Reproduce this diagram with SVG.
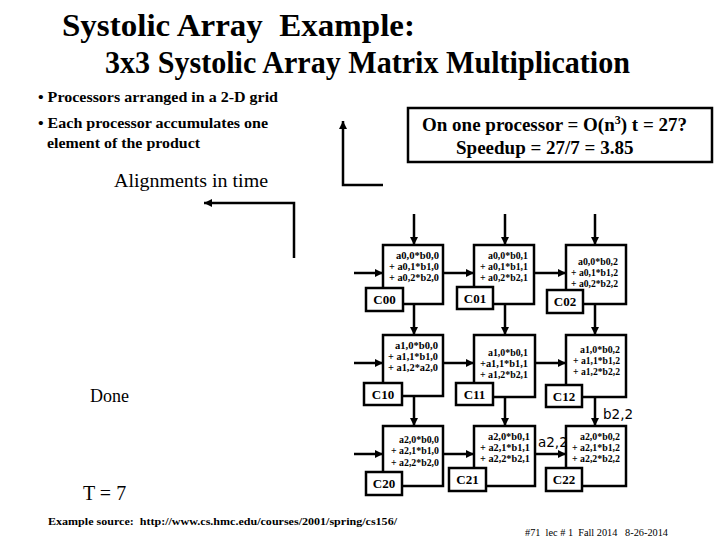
<svg xmlns="http://www.w3.org/2000/svg" width="720" height="540" viewBox="0 0 720 540">
<defs>
<style>
.ser{font-family:"Liberation Serif","Times New Roman",serif;fill:#000}
.b{font-weight:bold}
.cell{font-family:"Liberation Serif","Times New Roman",serif;font-weight:bold;font-size:11px;text-anchor:end;fill:#000}
.lbl{font-family:"Liberation Serif","Times New Roman",serif;font-weight:bold;font-size:13px;text-anchor:middle;fill:#000}
.box{fill:#fff;stroke:#000;stroke-width:2.5}
.ar{fill:none;stroke:#000;stroke-width:2.5;marker-end:url(#ah)}
.sans{font-family:"DejaVu Sans","Liberation Sans",sans-serif;font-size:13.5px;fill:#000}
</style>
<marker id="ah" markerUnits="userSpaceOnUse" markerWidth="9" markerHeight="8" refX="8" refY="4" orient="auto"><path d="M0,0 L8,4 L0,8 z" fill="#000"/></marker>
</defs>
<rect width="720" height="540" fill="#fff"/>

<g id="title">
<text class="ser b" x="62" y="36" font-size="32" textLength="353" lengthAdjust="spacingAndGlyphs" xml:space="preserve">Systolic Array  Example:</text>
<text class="ser b" x="105" y="73" font-size="32" textLength="525" lengthAdjust="spacingAndGlyphs">3x3 Systolic Array Matrix Multiplication</text>
</g>

<g id="bullets">
<text class="ser b" x="38" y="102" font-size="15" textLength="240" lengthAdjust="spacingAndGlyphs">• Processors arranged in a 2-D grid</text>
<text class="ser b" x="38" y="128" font-size="15" textLength="230" lengthAdjust="spacingAndGlyphs">• Each processor accumulates one</text>
<text class="ser b" x="47" y="148" font-size="15" textLength="153" lengthAdjust="spacingAndGlyphs">element of the product</text>
<text class="ser" x="114" y="187" font-size="18" textLength="154" lengthAdjust="spacingAndGlyphs">Alignments in time</text>
</g>

<g id="speedup">
<rect x="408" y="108" width="304" height="54" fill="#fff" stroke="#000" stroke-width="2.5"/>
<text class="ser b" x="422" y="131" font-size="19">On one processor = O(n<tspan font-size="12" dy="-7">3</tspan><tspan dy="7">) t = 27?</tspan></text>
<text class="ser b" x="456" y="154" font-size="19">Speedup = 27/7 = 3.85</text>
</g>

<g id="texts">
<text class="ser" x="90" y="402" font-size="18">Done</text>
<text class="ser" x="83" y="500" font-size="20">T = 7</text>
<text class="ser b" x="48" y="525" font-size="11" textLength="349" lengthAdjust="spacingAndGlyphs" xml:space="preserve">Example source:  http://www.cs.hmc.edu/courses/2001/spring/cs156/</text>
<text class="ser" x="525" y="536" font-size="9.5" textLength="143" lengthAdjust="spacingAndGlyphs" xml:space="preserve">#71  lec # 1  Fall 2014   8-26-2014</text>
<text class="sans" x="538" y="447">a2,2</text>
<text class="sans" x="603" y="419">b2,2</text>
</g>

<g id="connectors">
<polyline class="ar" points="294,258 294,203 204,203"/>
<polyline class="ar" points="383,185 343,185 343,121"/>
<line class="ar" x1="414" y1="214" x2="414" y2="245"/>
<line class="ar" x1="505" y1="214" x2="505" y2="245" stroke-width="1.8"/>
<line class="ar" x1="595" y1="214" x2="595" y2="245"/>
<line class="ar" x1="414" y1="304" x2="414" y2="335"/>
<line class="ar" x1="505" y1="304" x2="505" y2="335" stroke-width="1.8"/>
<line class="ar" x1="595" y1="304" x2="595" y2="335"/>
<line class="ar" x1="414" y1="396" x2="414" y2="426"/>
<line class="ar" x1="505" y1="397" x2="505" y2="426" stroke-width="1.8"/>
<line class="ar" x1="595" y1="397" x2="595" y2="426"/>
<line class="ar" x1="354" y1="273" x2="383" y2="273"/>
<line class="ar" x1="443" y1="273" x2="474" y2="273"/>
<line class="ar" x1="534" y1="273" x2="566" y2="273"/>
<line class="ar" x1="354" y1="363" x2="383" y2="363"/>
<line class="ar" x1="443" y1="363" x2="474" y2="363"/>
<line class="ar" x1="535" y1="363" x2="566" y2="363"/>
<line class="ar" x1="354" y1="454" x2="383" y2="454"/>
<line class="ar" x1="443" y1="454" x2="474" y2="454"/>
<line class="ar" x1="535" y1="454" x2="566" y2="454"/>
</g>

<g id="C00">
<rect class="box" x="383" y="245" width="60" height="59"/>
<text class="cell" x="439" y="259" textLength="43" lengthAdjust="spacingAndGlyphs">a0,0*b0,0</text>
<text class="cell" x="439" y="270" textLength="50" lengthAdjust="spacingAndGlyphs">+ a0,1*b1,0</text>
<text class="cell" x="439" y="281" textLength="50" lengthAdjust="spacingAndGlyphs">+ a0,2*b2,0</text>
<rect class="box" x="366" y="288" width="37" height="23"/>
<text class="lbl" x="384.5" y="304">C00</text>
</g>
<g id="C01">
<rect class="box" x="474" y="245" width="60" height="59"/>
<text class="cell" x="528" y="259" textLength="40" lengthAdjust="spacingAndGlyphs">a0,0*b0,1</text>
<text class="cell" x="528" y="270" textLength="48" lengthAdjust="spacingAndGlyphs">+ a0,1*b1,1</text>
<text class="cell" x="528" y="281" textLength="48" lengthAdjust="spacingAndGlyphs">+ a0,2*b2,1</text>
<rect class="box" x="457" y="287" width="36" height="22"/>
<text class="lbl" x="475" y="303">C01</text>
</g>
<g id="C02">
<rect class="box" x="566" y="245" width="60" height="59"/>
<text class="cell" x="618" y="265" textLength="40" lengthAdjust="spacingAndGlyphs">a0,0*b0,2</text>
<text class="cell" x="618" y="276" textLength="47" lengthAdjust="spacingAndGlyphs">+ a0,1*b1,2</text>
<text class="cell" x="618" y="287" textLength="47" lengthAdjust="spacingAndGlyphs">+ a0,2*b2,2</text>
<rect class="box" x="547" y="290" width="36" height="23"/>
<text class="lbl" x="565" y="306">C02</text>
</g>

<g id="C10">
<rect class="box" x="383" y="335" width="60" height="61"/>
<text class="cell" x="438" y="349" textLength="43" lengthAdjust="spacingAndGlyphs">a1,0*b0,0</text>
<text class="cell" x="438" y="360" textLength="50" lengthAdjust="spacingAndGlyphs">+ a1,1*b1,0</text>
<text class="cell" x="438" y="371" textLength="50" lengthAdjust="spacingAndGlyphs">+ a1,2*a2,0</text>
<rect class="box" x="364" y="383" width="38" height="22"/>
<text class="lbl" x="383" y="399">C10</text>
</g>
<g id="C11">
<rect class="box" x="474" y="335" width="61" height="62"/>
<text class="cell" x="528" y="356" textLength="40" lengthAdjust="spacingAndGlyphs">a1,0*b0,1</text>
<text class="cell" x="528" y="367" textLength="48" lengthAdjust="spacingAndGlyphs">+a1,1*b1,1</text>
<text class="cell" x="528" y="378" textLength="48" lengthAdjust="spacingAndGlyphs">+ a1,2*b2,1</text>
<rect class="box" x="456" y="383" width="37" height="22"/>
<text class="lbl" x="474.5" y="399">C11</text>
</g>
<g id="C12">
<rect class="box" x="566" y="335" width="60" height="62"/>
<text class="cell" x="620" y="353" textLength="40" lengthAdjust="spacingAndGlyphs">a1,0*b0,2</text>
<text class="cell" x="620" y="364" textLength="47" lengthAdjust="spacingAndGlyphs">+ a1,1*b1,2</text>
<text class="cell" x="620" y="375" textLength="47" lengthAdjust="spacingAndGlyphs">+ a1,2*b2,2</text>
<rect class="box" x="546" y="385" width="36" height="22"/>
<text class="lbl" x="564" y="401">C12</text>
</g>

<g id="C20">
<rect class="box" x="383" y="426" width="60" height="60"/>
<text class="cell" x="439" y="443" textLength="40" lengthAdjust="spacingAndGlyphs">a2,0*b0,0</text>
<text class="cell" x="439" y="454" textLength="48" lengthAdjust="spacingAndGlyphs">+ a2,1*b1,0</text>
<text class="cell" x="439" y="466" textLength="48" lengthAdjust="spacingAndGlyphs">+ a2,2*b2,0</text>
<rect class="box" x="366" y="472" width="36" height="23"/>
<text class="lbl" x="384" y="488">C20</text>
</g>
<g id="C21">
<rect class="box" x="474" y="426" width="61" height="60"/>
<text class="cell" x="530" y="440" textLength="42" lengthAdjust="spacingAndGlyphs">a2,0*b0,1</text>
<text class="cell" x="530" y="451" textLength="50" lengthAdjust="spacingAndGlyphs">+ a2,1*b1,1</text>
<text class="cell" x="530" y="462" textLength="50" lengthAdjust="spacingAndGlyphs">+ a2,2*b2,1</text>
<rect class="box" x="449" y="468" width="37" height="23"/>
<text class="lbl" x="467.5" y="484">C21</text>
</g>
<g id="C22">
<rect class="box" x="566" y="426" width="60" height="60"/>
<text class="cell" x="620" y="440" textLength="40" lengthAdjust="spacingAndGlyphs">a2,0*b0,2</text>
<text class="cell" x="620" y="451" textLength="48" lengthAdjust="spacingAndGlyphs">+ a2,1*b1,2</text>
<text class="cell" x="620" y="462" textLength="48" lengthAdjust="spacingAndGlyphs">+ a2,2*b2,2</text>
<rect class="box" x="546" y="468" width="36" height="23"/>
<text class="lbl" x="564" y="484">C22</text>
</g>
</svg>
